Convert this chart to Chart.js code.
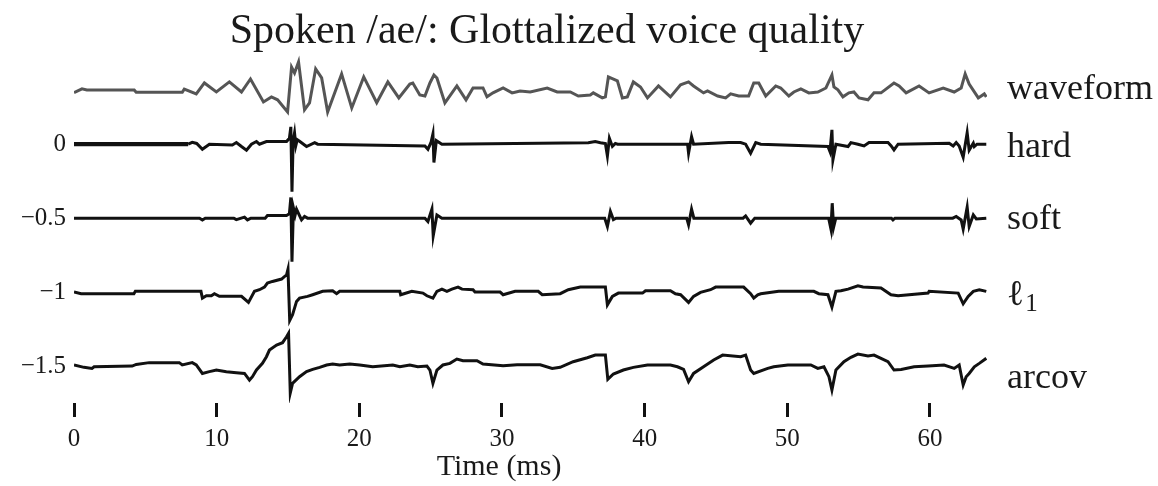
<!DOCTYPE html>
<html>
<head>
<meta charset="utf-8">
<script src="https://cdn.jsdelivr.net/npm/chart.js@4"></script>
<style>
  html, body { margin: 0; padding: 0; background: #fff; }
  #wrap { width: 1158px; height: 486px; }
</style>
</head>
<body>
<div id="wrap"><canvas id="glottalChart" width="1158" height="486"></canvas></div>
<script>
const timeTicks = [0, 10, 20, 30, 40, 50, 60];
const levelTicks = [0, -0.5, -1, -1.5];
const traceNames = ['waveform', 'hard', 'soft', 'ℓ1', 'arcov'];
const traceOffsets = [0, 0, -0.5, -1, -1.5];
const labelLevels = [0.36, 0, -0.5, -1, -1.5];

// [time (ms), value] -- waveform is absolute, the others are deviations from their offset
const waveform = [[0,0.349],[0.56,0.374],[0.9,0.367],[4.22,0.367],[4.36,0.351],[7.59,0.351],[7.73,0.372],[8.57,0.340],[9.14,0.414],[9.98,0.353],[10.89,0.421],[11.74,0.353],[12.37,0.441],[13.28,0.286],[13.84,0.320],[14.27,0.300],[14.97,0.218],[15.25,0.522],[15.46,0.482],[15.74,0.556],[16.16,0.232],[16.51,0.279],[16.94,0.509],[17.36,0.448],[17.78,0.218],[18.76,0.475],[19.47,0.245],[20.31,0.455],[21.22,0.28],[22.0,0.421],[22.77,0.313],[23.54,0.407],[23.75,0.414],[24.24,0.333],[24.6,0.326],[24.95,0.414],[25.23,0.468],[25.44,0.448],[26.0,0.279],[26.84,0.394],[27.48,0.300],[27.97,0.380],[28.67,0.380],[28.95,0.320],[29.37,0.347],[30.08,0.380],[30.71,0.347],[31.27,0.360],[31.98,0.353],[33.17,0.380],[33.87,0.353],[34.79,0.353],[35.35,0.326],[36.19,0.333],[36.4,0.347],[37.03,0.313],[37.25,0.320],[37.46,0.455],[38.09,0.428],[38.44,0.313],[38.79,0.320],[39.21,0.421],[39.71,0.387],[40.2,0.313],[40.97,0.394],[41.81,0.320],[42.52,0.401],[43.08,0.421],[43.43,0.394],[44.13,0.347],[44.41,0.360],[45.12,0.326],[45.68,0.313],[46.03,0.340],[46.59,0.326],[47.29,0.326],[47.65,0.414],[48.0,0.414],[48.49,0.326],[49.19,0.394],[49.54,0.380],[50.11,0.326],[50.46,0.353],[50.95,0.374],[51.51,0.347],[52.14,0.353],[52.71,0.380],[53.13,0.468],[53.27,0.387],[53.55,0.367],[53.9,0.320],[54.32,0.347],[54.67,0.353],[55.03,0.313],[55.66,0.300],[56.08,0.347],[56.57,0.347],[57.48,0.414],[57.84,0.394],[58.33,0.347],[59.24,0.394],[59.94,0.347],[60.93,0.380],[61.7,0.353],[62.19,0.380],[62.47,0.475],[62.75,0.407],[63.39,0.313],[63.81,0.340],[63.95,0.320]];

const hard = [[0,0],[8.0,0],[8.29,0.013],[8.6,0.005],[9.0,-0.034],[9.49,0],[11.1,-0.005],[11.38,0.011],[11.74,-0.016],[12.09,-0.04],[12.44,0],[12.79,0.018],[13.0,0],[13.49,0.018],[14.9,0.018],[15.1,0.04],[15.2,0.117],[15.28,-0.322],[15.36,0.02],[15.46,0.076],[15.55,-0.01],[15.65,0.03],[15.81,0.02],[16.3,-0.016],[16.87,0.011],[17.08,0],[24.6,-0.012],[24.81,-0.034],[25.02,0.01],[25.16,0.07],[25.23,-0.124],[25.4,0.024],[25.79,0],[36.05,0.01],[36.54,0.018],[36.9,0.01],[37.25,0.005],[37.39,-0.079],[37.53,0.04],[37.74,-0.015],[37.95,0.005],[38.1,0],[43.01,0],[43.08,-0.061],[43.29,0.051],[43.43,0],[45.89,0.011],[46.73,0.011],[47.08,0],[47.43,-0.061],[47.79,0.011],[48.14,0],[52.85,-0.016],[52.99,-0.05],[53.13,0.097],[53.2,-0.106],[53.41,0],[54.26,-0.016],[54.46,0.011],[54.95,0],[55.38,-0.012],[55.73,0.011],[57.06,0.011],[57.27,-0.01],[57.48,-0.039],[57.77,0],[61.35,0.007],[61.63,-0.012],[61.84,0.011],[62.05,-0.012],[62.33,-0.088],[62.61,0.078],[62.75,-0.04],[63.04,0.007],[63.11,-0.016],[63.3,0],[63.95,0]];

const soft = [[0,0],[8.8,0],[9.0,-0.012],[9.2,0],[11.2,0],[11.38,-0.01],[11.95,0.007],[12.16,-0.012],[12.4,0],[13.4,0],[13.56,0.018],[14.9,0.018],[15.1,0.03],[15.2,0.14],[15.28,-0.295],[15.38,0.07],[15.5,0.02],[15.6,0.06],[15.95,-0.012],[16.16,0.011],[16.37,0],[24.6,0],[24.81,-0.023],[25.09,0.061],[25.18,-0.12],[25.44,0.022],[25.79,0],[37.2,0],[37.39,-0.057],[37.6,0.045],[37.81,-0.01],[38.0,0],[42.95,0],[43.08,-0.045],[43.29,0.061],[43.45,0],[46.9,0],[47.08,0.015],[47.43,-0.034],[47.72,0],[52.9,0],[53.06,-0.074],[53.15,0.101],[53.25,-0.06],[53.4,0],[57.3,0],[57.41,-0.012],[57.55,0],[61.6,0],[61.84,0.011],[62.19,-0.012],[62.33,-0.074],[62.61,0.074],[62.75,-0.057],[63.04,0.022],[63.25,-0.005],[63.95,0]];

const ell1 = [[0,0],[0.5,-0.011],[4.2,-0.011],[4.3,0.005],[8.9,0.005],[9.0,-0.041],[9.28,-0.025],[9.63,-0.025],[9.84,-0.011],[10.19,-0.029],[11.74,-0.029],[12.23,-0.07],[12.65,0.005],[13.0,0.016],[13.35,0.034],[13.56,0.061],[13.91,0.072],[14.55,0.088],[14.9,0.117],[15.0,0.155],[15.12,-0.192],[15.32,-0.153],[15.6,-0.063],[15.81,-0.041],[16.37,-0.029],[16.73,-0.018],[17.43,0.005],[18.13,0.009],[18.41,-0.011],[18.62,0.005],[22.84,0.005],[22.9,-0.018],[23.68,0.005],[24.46,-0.007],[24.74,-0.025],[25.16,-0.041],[25.44,0.005],[25.79,0.02],[26.14,0.005],[26.49,0.02],[26.92,0.034],[27.2,0.02],[27.97,0.016],[28.11,0],[29.87,0],[30.08,-0.018],[30.92,0.005],[32.54,0.005],[32.82,-0.018],[34.08,-0.011],[34.65,0.016],[35.49,0.034],[37.25,0.034],[37.39,-0.086],[37.74,-0.029],[38.16,-0.007],[39.85,-0.007],[40.06,0.009],[41.81,0.009],[42.16,-0.011],[42.52,-0.018],[43.08,-0.07],[43.43,-0.029],[43.92,-0.002],[44.62,0.016],[44.98,0.034],[46.94,0.034],[47.43,-0.011],[47.65,-0.041],[47.93,-0.018],[48.14,-0.011],[49.4,0.005],[51.86,0.005],[52.21,-0.011],[52.85,-0.018],[53.13,-0.101],[53.41,0.005],[53.76,0.009],[54.26,0.02],[54.95,0.043],[55.31,0.034],[56.57,0.027],[57.27,-0.018],[57.77,-0.025],[59.87,-0.007],[59.94,0.005],[61.98,-0.007],[62.33,-0.079],[62.68,-0.029],[63.04,0.005],[63.46,0.016],[63.95,0.005]];

const arcov = [[0,0.007],[0.7,-0.009],[1.26,-0.016],[1.41,-0.005],[4.08,0],[4.36,0.011],[5.27,0.023],[7.38,0.023],[7.59,0.007],[8.29,0.023],[8.57,0.007],[9.0,-0.05],[9.49,-0.038],[9.98,-0.027],[10.68,-0.038],[11.38,-0.045],[11.95,-0.05],[12.3,-0.095],[12.51,-0.072],[12.79,-0.027],[13.21,0.018],[13.49,0.063],[13.7,0.108],[14.2,0.142],[14.62,0.158],[14.9,0.198],[15.04,0.221],[15.16,-0.182],[15.32,-0.117],[15.81,-0.072],[16.3,-0.038],[16.73,-0.023],[17.22,-0.009],[17.71,0.007],[18.13,0.014],[18.62,0.007],[19.33,0.014],[20.03,0.007],[20.94,-0.005],[22.35,0.007],[22.84,-0.005],[23.54,0.007],[24.1,-0.005],[24.74,0],[24.95,-0.027],[25.16,-0.117],[25.44,-0.027],[25.86,0.007],[26.35,0.018],[26.84,0.047],[27.27,0.036],[28.25,0.036],[28.67,0.014],[30.08,0.002],[31.06,0.009],[32.68,0.009],[33.52,-0.016],[34.08,-0.009],[34.99,0.029],[35.98,0.056],[36.54,0.074],[37.25,0.074],[37.42,-0.09],[37.81,-0.054],[38.51,-0.027],[39.21,-0.009],[40.2,0.007],[41.81,0.007],[42.3,-0.005],[42.73,-0.023],[43.08,-0.106],[43.43,-0.05],[44.13,-0.005],[44.84,0.041],[45.47,0.074],[46.73,0.063],[47.08,0.074],[47.43,-0.027],[47.65,-0.05],[48.63,-0.016],[49.05,-0.005],[50.04,0.007],[51.65,0.007],[52.14,-0.016],[52.57,-0.005],[52.92,-0.072],[53.13,-0.162],[53.41,-0.027],[53.97,0.029],[54.46,0.059],[54.95,0.081],[55.66,0.068],[56.08,0.074],[57.06,0.029],[57.48,-0.027],[57.98,-0.023],[58.89,-0.005],[59.87,0],[60.99,0.007],[61.49,-0.009],[61.7,-0.016],[62.05,0.007],[62.33,-0.128],[62.54,-0.072],[62.75,-0.05],[63.11,-0.005],[63.46,0.018],[63.95,0.052]];

const traces = [waveform, hard, soft, ell1, arcov];
const traceColors = ['#555555', '#111111', '#111111', '#111111', '#111111'];
const serif = "'Liberation Serif', 'Times New Roman', serif";
const textColor = '#1a1a1a';

const datasets = traces.map((pts, i) => ({
  label: traceNames[i],
  data: pts.map(([t, v]) => ({ x: t, y: v + traceOffsets[i] })),
  borderColor: traceColors[i],
  borderWidth: 3,
  // the hard trace is drawn heavier over its silent start
  segment: i === 1 ? { borderWidth: c => (c.p1.parsed.x <= 8 ? 4.2 : 3) } : undefined,
  pointRadius: 0,
  tension: 0,
  fill: false
}));

// title, x-axis caption and right-hand trace labels
const labelPlugin = {
  id: 'traceLabels',
  afterDraw(chart) {
    const { ctx, chartArea, scales } = chart;
    ctx.save();
    ctx.fillStyle = textColor;
    ctx.font = '42px ' + serif;
    ctx.textAlign = 'center';
    ctx.textBaseline = 'alphabetic';
    ctx.fillText('Spoken /ae/: Glottalized voice quality', 547, 43);

    ctx.font = '30px ' + serif;
    ctx.textBaseline = 'middle';
    ctx.fillText('Time (ms)', 499, 467);

    const nudge = [-1, 3, 1, 3, 13];
    ctx.textAlign = 'left';
    const x0 = chartArea.right + 20;
    traceNames.forEach((name, i) => {
      const y = scales.y.getPixelForValue(labelLevels[i]) + nudge[i];
      ctx.font = '36px ' + serif;
      if (name === 'ℓ1') {
        ctx.fillText('ℓ', x0, y);
        const w = ctx.measureText('ℓ').width;
        ctx.font = '25px ' + serif;
        ctx.fillText('1', x0 + w + 1, y + 9);
      } else {
        ctx.fillText(name, x0, y);
      }
    });
    ctx.restore();
  }
};

new Chart(document.getElementById('glottalChart').getContext('2d'), {
  type: 'line',
  data: { datasets },
  options: {
    responsive: false,
    animation: false,
    layout: { padding: { left: 0, right: 171, top: 52.5, bottom: 0 } },
    plugins: {
      legend: { display: false },
      tooltip: { enabled: false },
      title: { display: false }
    },
    scales: {
      x: {
        type: 'linear',
        min: 0,
        max: 64,
        afterBuildTicks: axis => { axis.ticks = timeTicks.map(v => ({ value: v })); },
        afterFit: axis => { axis.height = 83; },
        grid: { display: true, drawOnChartArea: false, drawTicks: true, tickLength: 14, tickWidth: 3, tickColor: '#111' },
        border: { display: false },
        ticks: { color: textColor, padding: 7, maxRotation: 0, font: { family: serif, size: 25 } },
        title: { display: false }
      },
      y: {
        type: 'linear',
        min: -1.75,
        max: 0.62,
        afterBuildTicks: axis => { axis.ticks = levelTicks.map(v => ({ value: v })); },
        afterFit: axis => { axis.width = 74; },
        grid: { display: false, drawTicks: false },
        border: { display: false },
        ticks: {
          color: textColor,
          padding: 8,
          font: { family: serif, size: 25 },
          callback: v => (v < 0 ? '\u2212' + Math.abs(v) : String(v))
        }
      }
    }
  },
  plugins: [labelPlugin]
});
</script>
</body>
</html>
